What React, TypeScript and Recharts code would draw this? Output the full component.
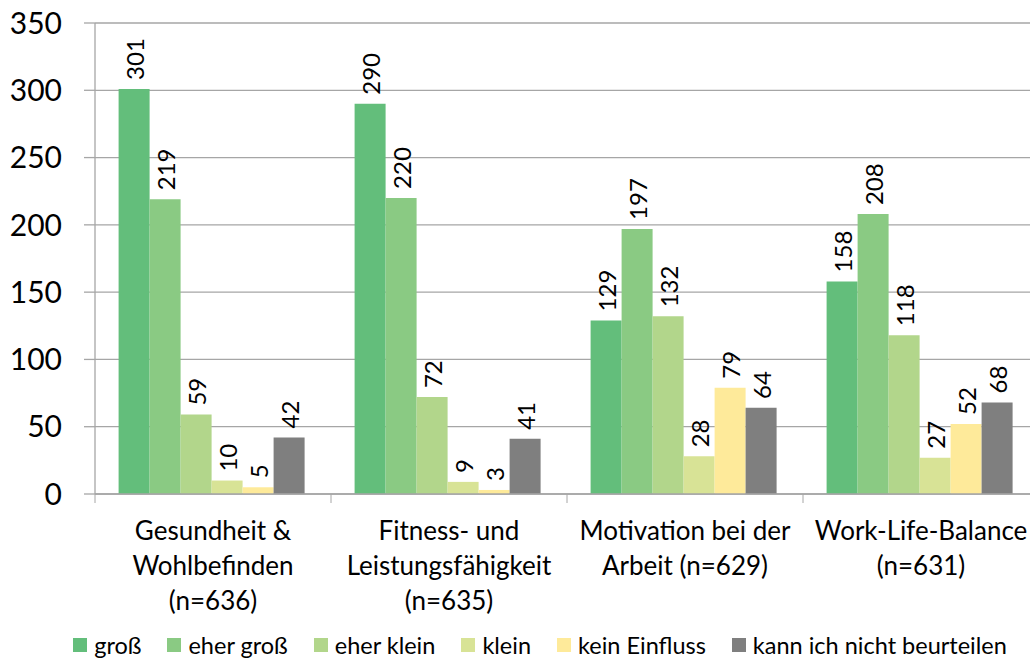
import React from 'react'
import { BarChart, Bar, XAxis, YAxis, CartesianGrid, LabelList } from 'recharts'

const CATEGORIES = [
  ['Gesundheit &', 'Wohlbefinden', '(n=636)'],
  ['Fitness- und', 'Leistungsfähigkeit', '(n=635)'],
  ['Motivation bei der', 'Arbeit (n=629)'],
  ['Work-Life-Balance', '(n=631)'],
]

const GROSS = [301, 290, 129, 158]
const EHER_GROSS = [219, 220, 197, 208]
const EHER_KLEIN = [59, 72, 132, 118]
const KLEIN = [10, 9, 28, 27]
const KEIN_EINFLUSS = [5, 3, 79, 52]
const NICHT_BEURTEILEN = [42, 41, 64, 68]

const Y_TICKS = [0, 50, 100, 150, 200, 250, 300, 350]

const SERIES = [
  { key: 'gross', name: 'groß', values: GROSS, color: '#63be7b' },
  { key: 'eherGross', name: 'eher groß', values: EHER_GROSS, color: '#8aca83' },
  { key: 'eherKlein', name: 'eher klein', values: EHER_KLEIN, color: '#b2d68b' },
  { key: 'klein', name: 'klein', values: KLEIN, color: '#d8e396' },
  { key: 'keinEinfluss', name: 'kein Einfluss', values: KEIN_EINFLUSS, color: '#feea9a' },
  { key: 'nicht', name: 'kann ich nicht beurteilen', values: NICHT_BEURTEILEN, color: '#7f7f7f' },
]

const data = CATEGORIES.map((lines, i) => {
  const row: Record<string, any> = { name: lines.join(' '), lines }
  SERIES.forEach((s) => {
    row[s.key] = s.values[i]
  })
  return row
})

const FONT = 'Lato, "Open Sans", sans-serif'
const AXIS_GRAY = '#a6a6a6'

function CategoryTick(props: any) {
  const { x, y, index } = props
  const band = 236
  const lines = CATEGORIES[index] ?? []
  return (
    <g>
      <line x1={x - band / 2} x2={x - band / 2} y1={y - 8} y2={y + 1} stroke={AXIS_GRAY} />
      {index === CATEGORIES.length - 1 && (
        <line x1={x + band / 2} x2={x + band / 2} y1={y - 8} y2={y + 1} stroke={AXIS_GRAY} />
      )}
      <text x={x} y={y + 38} textAnchor="middle" fontSize={26} fill="#000" fontFamily={FONT}>
        {lines.map((l, i) => (
          <tspan key={i} x={x} dy={i === 0 ? 0 : 35}>
            {l}
          </tspan>
        ))}
      </text>
    </g>
  )
}

function ValueLabel(props: any) {
  const { x, y, width, value } = props
  const cx = x + width / 2
  const cy = y - 9
  return (
    <text
      x={cx}
      y={cy}
      transform={`rotate(-90, ${cx}, ${cy})`}
      textAnchor="start"
      dominantBaseline="central"
      fontSize={24}
      fill="#000"
      fontFamily={FONT}
    >
      {value}
    </text>
  )
}

function Legend() {
  return (
    <div
      style={{
        position: 'absolute',
        left: 0,
        top: 630,
        width: 1080,
        height: 30,
        display: 'flex',
        justifyContent: 'center',
        alignItems: 'center',
        fontFamily: FONT,
        fontSize: 23.5,
        color: '#000',
      }}
    >
      {SERIES.map((s, i) => (
        <div
          key={s.key}
          style={{ display: 'flex', alignItems: 'center', marginRight: i === SERIES.length - 1 ? 0 : 26 }}
        >
          <span style={{ width: 14, height: 14, background: s.color, marginRight: 7, display: 'inline-block' }} />
          <span>{s.name}</span>
        </div>
      ))}
    </div>
  )
}

export default function App() {
  return (
    <div
      style={{
        position: 'absolute',
        left: 0,
        top: 0,
        width: 1030,
        height: 662,
        overflow: 'hidden',
        background: '#fff',
      }}
    >
      <BarChart
        width={1045}
        height={662}
        data={data}
        margin={{ top: 23, right: 6, left: 0, bottom: 38 }}
        barCategoryGap="10%"
        barGap={0}
      >
        <CartesianGrid vertical={false} stroke={AXIS_GRAY} strokeWidth={1.3} />
        <XAxis
          dataKey="name"
          height={130}
          axisLine={{ stroke: AXIS_GRAY, strokeWidth: 1.3 }}
          tickLine={false}
          tick={<CategoryTick />}
          interval={0}
        />
        <YAxis
          width={95}
          domain={[0, 350]}
          ticks={Y_TICKS}
          interval={0}
          tickSize={11}
          tickMargin={22}
          axisLine={{ stroke: AXIS_GRAY, strokeWidth: 1.3 }}
          tickLine={{ stroke: AXIS_GRAY, strokeWidth: 1.3 }}
          tick={{ fontSize: 30, fill: '#000', fontFamily: FONT }}
        />
        {SERIES.map((s) => (
          <Bar key={s.key} dataKey={s.key} name={s.name} fill={s.color} isAnimationActive={false}>
            <LabelList dataKey={s.key} content={<ValueLabel />} />
          </Bar>
        ))}
      </BarChart>
      <Legend />
    </div>
  )
}
